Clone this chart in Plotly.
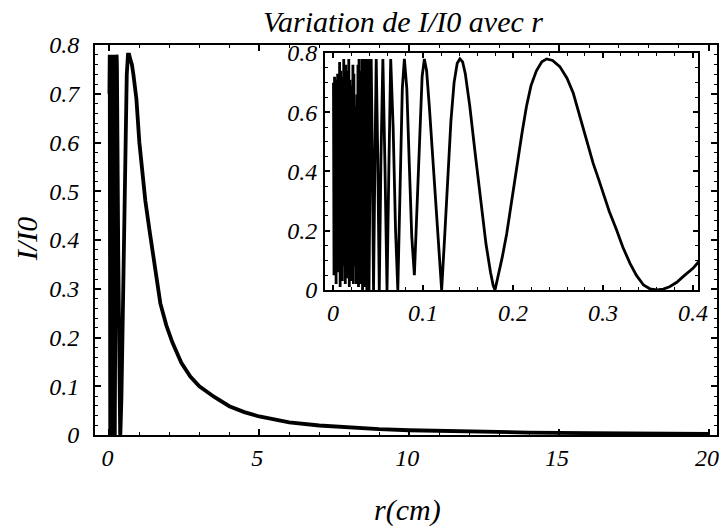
import plotly.graph_objects as go

# ---- data (r in cm, I/I0) ----
# dense, aliased oscillations near r = 0
r_chaos = [0.0005, 0.0011, 0.0017, 0.0022, 0.0028, 0.0034, 0.0039, 0.0045, 0.0051, 0.0056,
           0.0062, 0.0068, 0.0073, 0.0079, 0.0085, 0.0090, 0.0096, 0.0102, 0.0107, 0.0113,
           0.0119, 0.0124, 0.0130, 0.0136, 0.0141, 0.0147, 0.0153, 0.0158, 0.0164, 0.0170,
           0.0175, 0.0181, 0.0187, 0.0192, 0.0198, 0.0204, 0.0209, 0.0215, 0.0221, 0.0226,
           0.0232, 0.0238, 0.0243, 0.0249, 0.0255, 0.0260, 0.0266, 0.0272, 0.0277, 0.0283,
           0.0289, 0.0294, 0.0300, 0.0306, 0.0311, 0.0317, 0.0323, 0.0328, 0.0334, 0.0340,
           0.0346, 0.0352, 0.0358, 0.0364, 0.0370, 0.0376, 0.0382, 0.0388, 0.0394, 0.0400]
I_chaos = [0.70, 0.05, 0.72, 0.12, 0.71, 0.02, 0.68, 0.20, 0.73, 0.06,
           0.66, 0.30, 0.77, 0.01, 0.74, 0.15, 0.72, 0.03, 0.69, 0.25,
           0.78, 0.08, 0.70, 0.02, 0.76, 0.18, 0.66, 0.04, 0.74, 0.10,
           0.78, 0.01, 0.71, 0.22, 0.69, 0.03, 0.65, 0.12, 0.76, 0.02,
           0.73, 0.08, 0.62, 0.15, 0.58, 0.02, 0.66, 0.09, 0.76, 0.01,
           0.78, 0.05, 0.74, 0.02, 0.69, 0.10, 0.78, 0.00, 0.72, 0.06,
           0.78, 0.01, 0.75, 0.04, 0.78, 0.00, 0.77, 0.02, 0.78, 0.00]

# resolved lobes (visible in the inset)
r_lobes = [0.0412, 0.0424, 0.0437, 0.0450,
           0.0465, 0.0480, 0.0497, 0.0514,
           0.0533, 0.0554, 0.0577, 0.0600,
           0.0620, 0.0641, 0.0668, 0.0695, 0.0720,
           0.0745, 0.0770, 0.0793, 0.0820, 0.0848, 0.0875, 0.0904,
           0.0930, 0.0965, 0.0990, 0.1015, 0.1040, 0.1070, 0.1105, 0.1140, 0.1175, 0.1207,
           0.1235, 0.1270, 0.1310, 0.1345, 0.1380, 0.1410, 0.1440, 0.1470, 0.1520, 0.1580,
           0.1640, 0.1700, 0.1750, 0.1780, 0.1800,
           0.1840, 0.1880, 0.1930, 0.1980, 0.2040, 0.2100, 0.2150, 0.2200, 0.2260, 0.2320,
           0.2374, 0.2440, 0.2520, 0.2600, 0.2670, 0.2730, 0.2780, 0.2840, 0.2890, 0.2950,
           0.3000, 0.3070, 0.3150, 0.3220, 0.3300, 0.3370, 0.3450, 0.3520, 0.3600, 0.3670,
           0.3740, 0.3820, 0.3890, 0.3950, 0.4000]
I_lobes = [0.45, 0.78, 0.45, 0.00,
           0.42, 0.78, 0.45, 0.00,
           0.45, 0.78, 0.42, 0.00,
           0.40, 0.78, 0.55, 0.20, 0.00,
           0.35, 0.68, 0.78, 0.68, 0.42, 0.18, 0.05,
           0.25, 0.56, 0.72, 0.78, 0.74, 0.62, 0.46, 0.29, 0.12, 0.00,
           0.15, 0.36, 0.57, 0.70, 0.765, 0.78, 0.77, 0.73, 0.62, 0.46,
           0.30, 0.155, 0.06, 0.015, 0.00,
           0.05, 0.11, 0.19, 0.29, 0.42, 0.53, 0.62, 0.69, 0.74, 0.77,
           0.78, 0.775, 0.754, 0.715, 0.664, 0.60, 0.54, 0.48, 0.428, 0.375,
           0.326, 0.265, 0.203, 0.145, 0.09, 0.05, 0.017, 0.004, 0.00, 0.003,
           0.011, 0.026, 0.045, 0.06, 0.073]

# main lobe and slow decay
r_tail = [0.43, 0.46, 0.50, 0.54, 0.58, 0.62, 0.66, 0.70, 0.75, 0.80, 0.90,
          1.0, 1.1, 1.2, 1.35, 1.5, 1.7, 1.9, 2.1, 2.4, 2.7, 3.0, 3.5, 4.0, 4.5,
          5.0, 5.5, 6.0, 7.0, 8.0, 9.0, 10.0, 12.0, 14.0, 16.0, 18.0, 20.0]
I_tail = [0.18, 0.31, 0.48, 0.64, 0.74, 0.78, 0.78, 0.77, 0.76, 0.74, 0.69,
          0.60, 0.54, 0.48, 0.415, 0.35, 0.27, 0.225, 0.19, 0.148, 0.12, 0.10, 0.078, 0.059, 0.047,
          0.038, 0.031, 0.026, 0.0195, 0.015, 0.012, 0.0097, 0.0068, 0.005, 0.0038, 0.003, 0.0025]

r = r_chaos + r_lobes + r_tail
I = I_chaos + I_lobes + I_tail

FONT = "Liberation Serif"
tickfont = dict(family=FONT, size=24, color="black", style="italic")

fig = go.Figure()
fig.add_trace(go.Scatter(x=r, y=I, mode="lines", line=dict(color="black", width=3.8),
                         xaxis="x", yaxis="y", showlegend=False, hoverinfo="skip"))
fig.add_trace(go.Scatter(x=r, y=I, mode="lines", line=dict(color="black", width=2.8),
                         xaxis="x2", yaxis="y2", showlegend=False, hoverinfo="skip"))

common = dict(ticks="inside", tickcolor="black", tickwidth=1.5, showline=True, linecolor="black",
              linewidth=2, mirror="allticks", showgrid=False, zeroline=False, tickfont=tickfont,
              automargin=False, ticklabeloverflow="allow")

minor_style = dict(ticks="inside", ticklen=3, tickcolor="black", tickwidth=1)

fig.update_layout(
    width=719, height=527,
    margin=dict(l=95, r=2, t=45, b=92),
    paper_bgcolor="white", plot_bgcolor="white",
    showlegend=False,
    xaxis=dict(domain=[0, 1], range=[-0.48, 20.27], tickmode="linear", tick0=0, dtick=5,
               ticklen=6, ticklabelstandoff=0, ticklabelshift=-2, anchor="y",
               minor=dict(dtick=1, tick0=0, **minor_style), **common),
    yaxis=dict(domain=[0, 1], range=[0, 0.8], tickmode="linear", tick0=0, dtick=0.1,
               ticklen=6, ticklabelstandoff=9, anchor="x",
               minor=dict(dtick=0.02, tick0=0, **minor_style), **common),
    xaxis2=dict(domain=[0.3698, 0.9695], range=[-0.0089, 0.4056], tickmode="linear", tick0=0,
                dtick=0.1, ticklen=5, ticklabelstandoff=0, anchor="y2",
                minor=dict(dtick=0.02, tick0=0, **minor_style), **common),
    yaxis2=dict(domain=[0.3718, 0.9795], range=[0, 0.8], tickmode="linear", tick0=0, dtick=0.2,
                ticklen=5, ticklabelstandoff=1, anchor="x2",
                minor=dict(dtick=0.05, tick0=0, **minor_style), **common),
    annotations=[
        dict(text="Variation de I/I0 avec r", xref="paper", yref="paper", x=0.495, y=1.059,
             xanchor="center", yanchor="middle", showarrow=False,
             font=dict(family=FONT, size=30, color="black", style="italic")),
        dict(text="r(cm)", xref="paper", yref="paper", x=0.503, y=-0.1923,
             xanchor="center", yanchor="middle", showarrow=False,
             font=dict(family=FONT, size=30, color="black", style="italic")),
        dict(text="I/I0", xref="paper", yref="paper", x=-0.109, y=0.5026, textangle=-90,
             xanchor="center", yanchor="middle", showarrow=False,
             font=dict(family=FONT, size=30, color="black", style="italic")),
    ],
)

# remove the browser's default 8 px body margin so the figure fills the window exactly
fig.write_html("out.html", config={"displayModeBar": False},
               post_script="document.body.style.margin='0px';")
